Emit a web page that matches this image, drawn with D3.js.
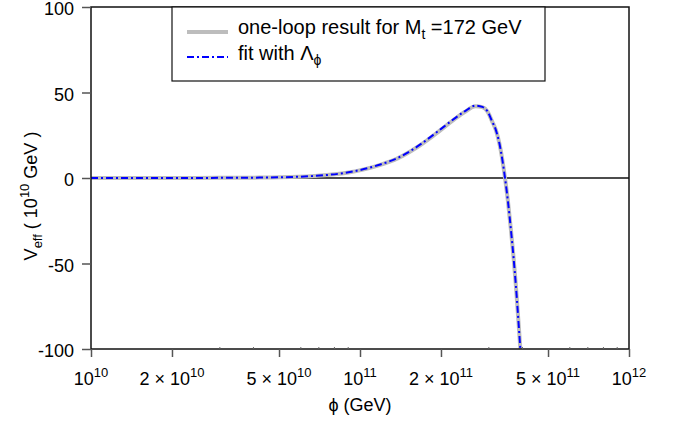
<!DOCTYPE html>
<html><head><meta charset="utf-8">
<script src="https://cdn.jsdelivr.net/npm/d3@7/dist/d3.min.js"></script>
<style>
body{margin:0;background:#fff;}
text{font-family:"Liberation Sans",Arial,sans-serif;fill:#000;}
</style></head>
<body><svg id="c" width="683" height="424"></svg>
<script>
// phi in GeV, V in (10^10 GeV)^4
const phiValues = [1e10, 2e10, 3e10, 4e10, 5.06e10, 6.72e10, 8.96e10, 1.19e11, 1.38e11, 1.63e11, 1.9e11, 2.23e11, 2.45e11, 2.69e11, 2.85e11, 2.98e11, 3.1e11, 3.2e11, 3.3e11, 3.46e11, 3.55e11, 3.64e11, 3.72e11, 3.8e11, 3.94e11, 4.05e11];
const oneLoop   = [0.0, 0.02, 0.08, 0.2, 0.4, 1.2, 3.1, 7.7, 11.5, 18.0, 25.5, 34.0, 38.6, 42.0, 41.4, 38.8, 33.0, 28.0, 20.0, 0.0, -14.0, -30.4, -46.0, -63.5, -98.6, -125];
const fitValues = [0.0, 0.02, 0.08, 0.2, 0.4, 1.2, 3.2, 7.9, 11.7, 18.3, 26.0, 34.4, 39.0, 42.3, 41.6, 38.9, 33.0, 28.0, 20.0, 0.0, -14.0, -30.4, -46.0, -63.5, -98.6, -125];
const yTicks = [100, 50, 0, -50, -100];
const xMajorTicks = [1e10, 2e10, 5e10, 1e11, 2e11, 5e11, 1e12];
const xTickMant = [null, "2", "5", null, "2", "5", null];
const xTickExp = ["10", "10", "10", "11", "11", "11", "12"];
const xMinorTicks = [3e10, 4e10, 6e10, 7e10, 8e10, 9e10, 3e11, 4e11, 6e11, 7e11, 8e11, 9e11];

const svg = d3.select("#c");
const L = 91, R = 629, T = 7, B = 349;
const x = d3.scaleLog().domain([1e10, 1e12]).range([L, R]);
const y = d3.scaleLinear().domain([-100, 100]).range([B, T]);

svg.append("defs").append("clipPath").attr("id","clip")
  .append("rect").attr("x",L).attr("y",T).attr("width",R-L).attr("height",B-T);

// zero line
svg.append("line").attr("x1",L).attr("x2",R).attr("y1",y(0)).attr("y2",y(0))
  .attr("stroke","#111").attr("stroke-width",1.3);

// curves
const line = d3.line().x(d=>x(d[0])).y(d=>y(d[1])).curve(d3.curveMonotoneX);
const g = svg.append("g").attr("clip-path","url(#clip)");
g.append("path").datum(phiValues.map((p,i)=>[p,oneLoop[i]]))
  .attr("d",line).attr("fill","none").attr("stroke","#bdbdbd").attr("stroke-width",4);
g.append("path").datum(phiValues.map((p,i)=>[p,fitValues[i]]))
  .attr("d",line).attr("fill","none").attr("stroke","#0000ff").attr("stroke-width",2)
  .attr("stroke-dasharray","7,3,2,3");

// frame
svg.append("rect").attr("x",L).attr("y",T).attr("width",R-L).attr("height",B-T)
  .attr("fill","none").attr("stroke","#111").attr("stroke-width",1.5);

// y axis
const ya = svg.append("g").attr("transform",`translate(${L},0)`)
  .call(d3.axisLeft(y).tickValues(yTicks).tickSize(9).tickFormat(d=>d).tickPadding(8));
ya.select(".domain").remove();
ya.selectAll(".tick line").attr("stroke","#555").attr("stroke-width",1.5);
ya.selectAll(".tick text").attr("dy","0.44em").style("font-size","18px")
  .attr("font-family","Liberation Sans, Arial, sans-serif");

// x axis
const xa = svg.append("g").attr("transform",`translate(0,${B})`)
  .call(d3.axisBottom(x).tickValues(xMajorTicks).tickSize(8).tickFormat(""));
xa.select(".domain").remove();
xa.selectAll(".tick line").attr("stroke","#555").attr("stroke-width",1.5);
const xm = svg.append("g").attr("transform",`translate(0,${B})`)
  .call(d3.axisBottom(x).tickValues(xMinorTicks).tickSize(-2).tickFormat(""));
xm.select(".domain").remove();
xm.selectAll(".tick line").attr("stroke","#666");

xMajorTicks.forEach((v,i)=>{
  const t = svg.append("text").attr("x",x(v)).attr("y",385)
    .attr("text-anchor","middle").style("font-size","18px");
  if (xTickMant[i]) { t.append("tspan").text(xTickMant[i] + " \u00d7 10"); }
  else { t.append("tspan").text("10"); }
  t.append("tspan").attr("dy",-8).style("font-size","13px").text(xTickExp[i]);
});

// x label
svg.append("text").attr("x",(L+R)/2).attr("y",411).attr("text-anchor","middle")
  .style("font-size","18px").text("\u03d5 (GeV)");

// y label
const yl = svg.append("text").attr("transform","translate(37,196) rotate(-90)")
  .attr("text-anchor","middle").style("font-size","18px");
yl.append("tspan").text("V");
yl.append("tspan").attr("dy",5).style("font-size","13px").text("eff");
yl.append("tspan").attr("dy",-5).text(" ( 10");
yl.append("tspan").attr("dy",-8).style("font-size","13px").text("10");
yl.append("tspan").attr("dy",8).text(" GeV )");

// legend
svg.append("rect").attr("x",172).attr("y",T).attr("width",373).attr("height",74)
  .attr("fill","#fff").attr("stroke","#111").attr("stroke-width",1.2);
svg.append("line").attr("x1",187).attr("x2",228).attr("y1",32).attr("y2",32)
  .attr("stroke","#bdbdbd").attr("stroke-width",4);
svg.append("line").attr("x1",187).attr("x2",228).attr("y1",57).attr("y2",57)
  .attr("stroke","#0000ff").attr("stroke-width",2).attr("stroke-dasharray","7,3,2,3");
const l1 = svg.append("text").attr("x",238).attr("y",34).style("font-size","20px");
l1.append("tspan").text("one-loop result for M");
l1.append("tspan").attr("dy",5).style("font-size","14px").text("t");
l1.append("tspan").attr("dy",-5).text(" =172 GeV");
const l2 = svg.append("text").attr("x",238).attr("y",60).style("font-size","20px");
l2.append("tspan").text("fit with \u039b");
l2.append("tspan").attr("dy",5).style("font-size","14px").text("\u03d5");
</script></body></html>
